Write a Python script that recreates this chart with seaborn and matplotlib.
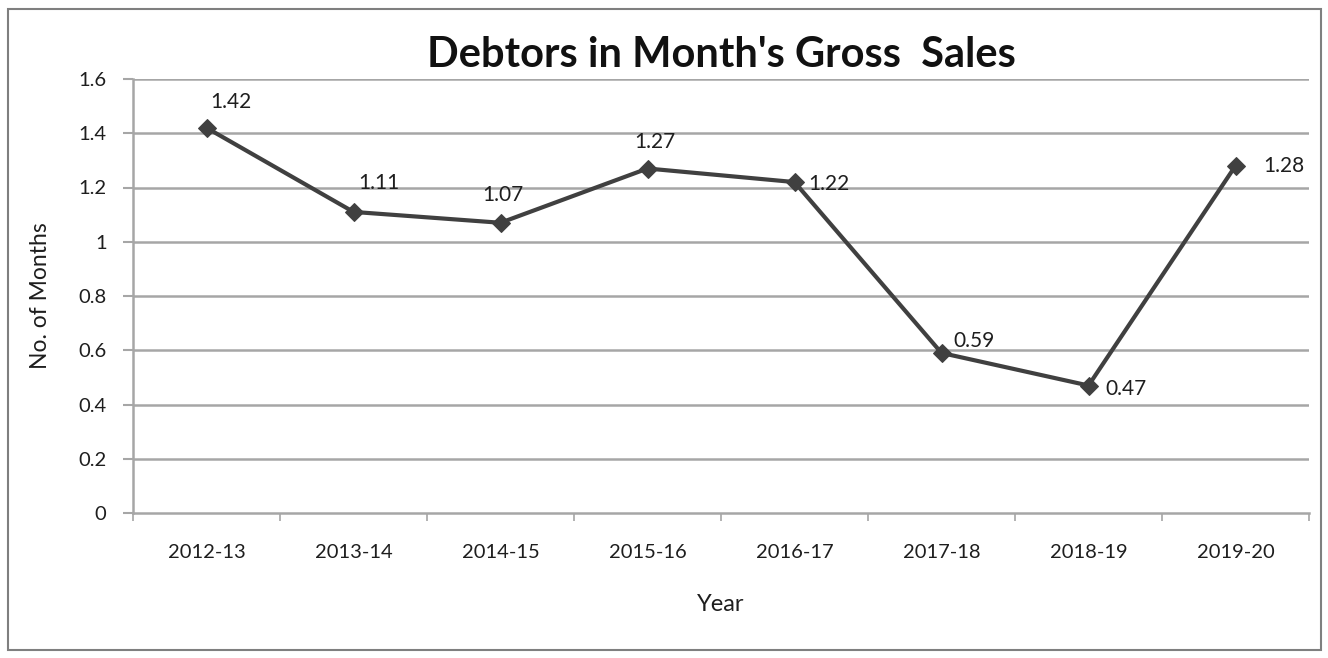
import matplotlib
matplotlib.use("Agg")
import matplotlib.pyplot as plt
import matplotlib.patches as mpatches
from matplotlib.ticker import FuncFormatter, FixedLocator
import seaborn as sns
import pandas as pd

years = ["2012-13", "2013-14", "2014-15", "2015-16",
         "2016-17", "2017-18", "2018-19", "2019-20"]
months = [1.42, 1.11, 1.07, 1.27, 1.22, 0.59, 0.47, 1.28]
y_ticks = [0, 0.2, 0.4, 0.6, 0.8, 1.0, 1.2, 1.4, 1.6]

# label placement relative to each marker, in pixels
label_offsets = [(4, 26), (5, 29), (-18, 28), (-13, 27),
                 (14, -2), (12, 12), (17, -3), (28, 0)]

sns.set_theme(style="white")
plt.rcParams["font.family"] = ["Lato", "DejaVu Sans"]

df = pd.DataFrame({"Year": years, "Months": months})

fig = plt.figure(figsize=(13.28, 6.58), dpi=100)
ax = fig.add_axes([133 / 1328, 1 - 513 / 658, 1176 / 1328, 434 / 658])

line_col = "#404040"
grid_col = "#a6a6a6"
text_col = "#1e1e1e"

ax.set_ylim(0, 1.6)
ax.set_xlim(-0.5, len(years) - 0.5)
for yv in y_ticks[1:]:
    ax.axhline(yv, color=grid_col, lw=1.8, zorder=1)

sns.lineplot(data=df, x="Year", y="Months", ax=ax, color=line_col,
             lw=3, marker="D", markersize=9, markeredgecolor=line_col,
             sort=False, zorder=3)

for i, (v, (dx, dy)) in enumerate(zip(months, label_offsets)):
    ax.annotate(f"{v:.2f}", xy=(i, v), xytext=(dx, dy),
                textcoords="offset pixels", ha="left", va="center",
                fontsize=15, color=text_col)

ax.yaxis.set_major_locator(FixedLocator(y_ticks))
ax.yaxis.set_major_formatter(FuncFormatter(lambda v, p: f"{v:g}"))
ax.set_xticks(range(len(years)))
ax.set_xticklabels(years)
ax.set_xticks([i - 0.5 for i in range(len(years) + 1)], minor=True)
ax.tick_params(axis="x", which="major", length=0, pad=22, labelsize=14.5,
               labelcolor=text_col)
ax.tick_params(axis="x", which="minor", length=6, width=1.2, color=grid_col,
               direction="out", bottom=True)
ax.tick_params(axis="y", which="major", length=7, width=1.5, color=grid_col,
               direction="out", left=True, pad=12, labelsize=14.5,
               labelcolor=text_col)

for s in ["top", "right"]:
    ax.spines[s].set_visible(False)
for s in ["left", "bottom"]:
    ax.spines[s].set_color(grid_col)
    ax.spines[s].set_linewidth(1.8)

ax.set_xlabel("Year", fontsize=17, color=text_col, labelpad=24)
ax.set_ylabel("No. of Months", fontsize=16.5, color=text_col, labelpad=20)

fig.text(0.543, 1 - 55 / 658, "Debtors in Month's Gross  Sales",
         ha="center", va="center", fontsize=30, fontweight="bold",
         color="#111111")

fig.patches.append(mpatches.Rectangle((8 / 1328, 1 - 650 / 658),
                                      1313 / 1328, 641 / 658,
                                      transform=fig.transFigure, fill=False,
                                      edgecolor="#7f7f7f", lw=1.5))

fig.savefig("out.png", dpi=100)
